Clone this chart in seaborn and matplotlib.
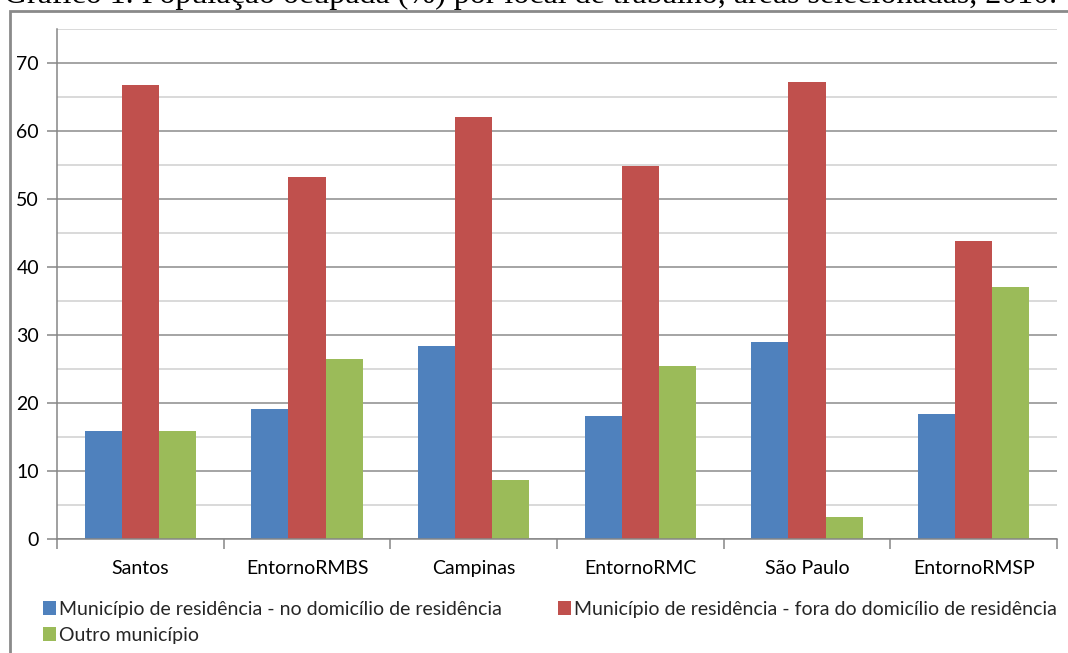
import matplotlib
matplotlib.use("Agg")
import matplotlib.pyplot as plt
from matplotlib.patches import Rectangle
from matplotlib.ticker import MultipleLocator
import seaborn as sns
import pandas as pd
import numpy as np

categories = ["Santos", "EntornoRMBS", "Campinas", "EntornoRMC", "São Paulo", "EntornoRMSP"]
series_names = [
    "Município de residência - no domicílio de residência",
    "Município de residência - fora do domicílio de residência",
    "Outro município",
]
no_domicilio = [15.9, 19.1, 28.4, 18.1, 29.0, 18.4]
fora_domicilio = [66.7, 53.2, 62.0, 54.8, 67.2, 43.8]
outro_municipio = [15.9, 26.5, 8.7, 25.5, 3.2, 37.1]
colors = ["#4F81BD", "#C0504D", "#9BBB59"]
title = "Gráfico 1. População ocupada (%) por local de trabalho, áreas selecionadas, 2010."

rows = []
for name, vals in zip(series_names, [no_domicilio, fora_domicilio, outro_municipio]):
    for c, v in zip(categories, vals):
        rows.append({"area": c, "serie": name, "valor": v})
df = pd.DataFrame(rows)

sns.set_theme(style="white")
plt.rcParams["font.family"] = ["Lato", "DejaVu Sans"]

W, H = 1068, 653
fig = plt.figure(figsize=(W / 100, H / 100), dpi=100)
fig.patch.set_facecolor("white")
ax = fig.add_axes([57 / W, 1 - 539 / H, (1057 - 57) / W, (539 - 29) / H])

sns.barplot(data=df, x="area", y="valor", hue="serie", order=categories,
            hue_order=series_names, palette=colors, width=0.667, gap=0,
            saturation=1, ax=ax, legend=True, errorbar=None, linewidth=0)

handles, labels = ax.get_legend_handles_labels()
ax.get_legend().remove()

ax.set_ylim(0, 75)
ax.set_xlim(-0.5, len(categories) - 0.5)
ax.yaxis.set_major_locator(MultipleLocator(10))
ax.yaxis.set_minor_locator(MultipleLocator(5))
ax.set_axisbelow(True)
ax.grid(False)
ax.yaxis.grid(True, which="major", color="#8c8c8c", linewidth=1.1)
ax.yaxis.grid(True, which="minor", color="#d0d0d0", linewidth=1.1)
ax.set_xlabel("")
ax.set_ylabel("")

for s in ["top", "right"]:
    ax.spines[s].set_visible(False)
for s in ["left", "bottom"]:
    ax.spines[s].set_visible(True)
    ax.spines[s].set_color("#868686")
    ax.spines[s].set_linewidth(1.1)

ax.set_xticks(np.arange(len(categories)))
ax.set_xticklabels(categories)
ax.set_xticks(np.arange(-0.5, len(categories)), minor=True)
ax.tick_params(axis="x", which="major", length=0, pad=15, labelsize=14, labelcolor="#000000")
ax.tick_params(axis="x", which="minor", length=7, width=1.1, color="#868686", direction="out", bottom=True)
ax.tick_params(axis="y", which="major", length=7, width=1.1, color="#868686", direction="out",
               left=True, pad=6, labelsize=14, labelcolor="#000000")
ax.tick_params(axis="y", which="minor", length=0)

# legend order: row1 blue, red; row2 green
order = [0, 2, 1]
leg = fig.legend([handles[i] for i in order], [labels[i] for i in order],
                 loc="upper left", bbox_to_anchor=(35 / W, 1 - 593 / H), ncol=2,
                 frameon=False, fontsize=14, handlelength=0.7, handleheight=0.7,
                 handletextpad=0.15, columnspacing=2.85, labelspacing=0.45, borderaxespad=0)

# outer chart border
fig.add_artist(Rectangle((10 / W, -0.2), 1.2, 1.2 - 11 / H, transform=fig.transFigure,
                         fill=False, edgecolor="#8a8a8a", linewidth=2.0))

# clipped title
fig.text(0.497, 1 - 3 / H, title, ha="center", va="baseline", fontsize=23,
         family=["Liberation Serif", "DejaVu Serif"], color="#000000")

fig.savefig("out.png", dpi=100, facecolor="white")
